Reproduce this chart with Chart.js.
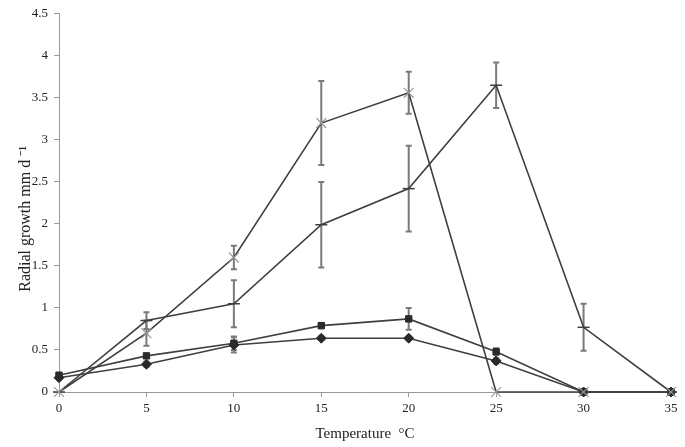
<!DOCTYPE html>
<html>
<head>
<meta charset="utf-8">
<script src="https://cdn.jsdelivr.net/npm/chart.js@4"></script>
<style>
  html, body { margin: 0; padding: 0; background: #fff; }
  #wrap { width: 685px; height: 447px; }
</style>
</head>
<body>
<div id="wrap"><canvas id="c" width="685" height="447"></canvas></div>
<script>
// --- DATA ---
const temps = [0, 5, 10, 15, 20, 25, 30, 35];
const diamondVals = [0.17, 0.33, 0.56, 0.64, 0.64, 0.37, 0, 0];
const diamondErr  = [0.02, 0.03, 0.09, 0.02, 0.02, 0.03, 0, 0];
const squareVals  = [0.20, 0.43, 0.58, 0.79, 0.87, 0.48, 0, 0];
const squareErr   = [0.02, 0.02, 0.08, 0.03, 0.13, 0.04, 0, 0];
const plusVals    = [0, 0.85, 1.05, 1.99, 2.42, 3.65, 0.77, 0];
const plusErr     = [0, 0.10, 0.28, 0.51, 0.51, 0.27, 0.28, 0];
const crossVals   = [0, 0.70, 1.60, 3.20, 3.56, 0, 0, 0];
const crossErr    = [0, 0.15, 0.14, 0.50, 0.25, 0, 0, 0];
const yTicks = [0, 0.5, 1, 1.5, 2, 2.5, 3, 3.5, 4, 4.5];

const LINE = '#3f3f3f';
const FONT = "'Liberation Serif', 'Times New Roman', serif";

function pts(vals) { return temps.map((t, i) => ({ x: t, y: vals[i] })); }

// error bars drawn through the chart's own scales
const errorBars = {
    id: 'errorBars',
    beforeDatasetsDraw(chart) {
        const { ctx, scales: { x, y } } = chart;
        ctx.save();
        ctx.strokeStyle = '#7a7a7a';
        ctx.lineWidth = 2;
        chart.data.datasets.forEach(ds => {
            ds.err.forEach((e, i) => {
                if (!e) return;
                const px = x.getPixelForValue(temps[i]);
                const top = y.getPixelForValue(ds.data[i].y + e);
                const bot = y.getPixelForValue(ds.data[i].y - e);
                ctx.beginPath();
                ctx.moveTo(px, top); ctx.lineTo(px, bot);
                ctx.moveTo(px - 3, top); ctx.lineTo(px + 3, top);
                ctx.moveTo(px - 3, bot); ctx.lineTo(px + 3, bot);
                ctx.stroke();
            });
        });
        ctx.restore();
    }
};

new Chart(document.getElementById('c'), {
    type: 'line',
    data: {
        datasets: [
            { data: pts(crossVals), err: crossErr, pointStyle: 'crossRot', pointRadius: 7,
              pointBorderColor: '#9a9a9a', pointBorderWidth: 1.2 },
            { data: pts(plusVals), err: plusErr, pointStyle: 'line', pointRadius: 6,
              pointBorderColor: LINE, pointBorderWidth: 1.5 },
            { data: pts(squareVals), err: squareErr, pointStyle: 'rect', pointRadius: 4.5,
              pointBackgroundColor: '#2a2a2a', pointBorderColor: '#2a2a2a', pointBorderWidth: 1 },
            { data: pts(diamondVals), err: diamondErr, pointStyle: 'rectRot', pointRadius: 5,
              pointBackgroundColor: '#2a2a2a', pointBorderColor: '#2a2a2a', pointBorderWidth: 1 }
        ].map(d => Object.assign({ borderColor: LINE, borderWidth: 1.6, tension: 0, fill: false, clip: false }, d))
    },
    options: {
        responsive: false,
        animation: false,
        layout: { padding: { top: 13, right: 14, left: 0, bottom: 0 } },
        plugins: { legend: { display: false }, tooltip: { enabled: false } },
        scales: {
            x: {
                type: 'linear', min: 0, max: 35,
                afterBuildTicks: s => { s.ticks = temps.map(v => ({ value: v })); },
                afterFit: s => { s.height = 55; },
                border: { color: '#9a9a9a', width: 1 },
                grid: { drawOnChartArea: false, tickLength: 5, color: '#9a9a9a' },
                ticks: { color: '#222', font: { family: FONT, size: 13 }, padding: 4, maxRotation: 0 },
                title: { display: true, text: 'Temperature  °C', color: '#222',
                         font: { family: FONT, size: 15 }, padding: { top: 1 } }
            },
            y: {
                min: 0, max: 4.5,
                afterBuildTicks: s => { s.ticks = yTicks.map(v => ({ value: v })); },
                afterFit: s => { s.width = 59; },
                border: { color: '#9a9a9a', width: 1 },
                grid: { drawOnChartArea: false, tickLength: 5, color: '#9a9a9a' },
                ticks: { color: '#222', font: { family: FONT, size: 13 }, padding: 6,
                         callback: v => String(v) },
                title: { display: true, text: 'Radial growth mm d ⁻¹\u00a0\u00a0\u00a0\u00a0\u00a0\u00a0\u00a0\u00a0', color: '#222',
                         font: { family: FONT, size: 16 }, padding: { top: 16, bottom: 0 } }
            }
        }
    },
    plugins: [errorBars]
});
</script>
</body>
</html>
